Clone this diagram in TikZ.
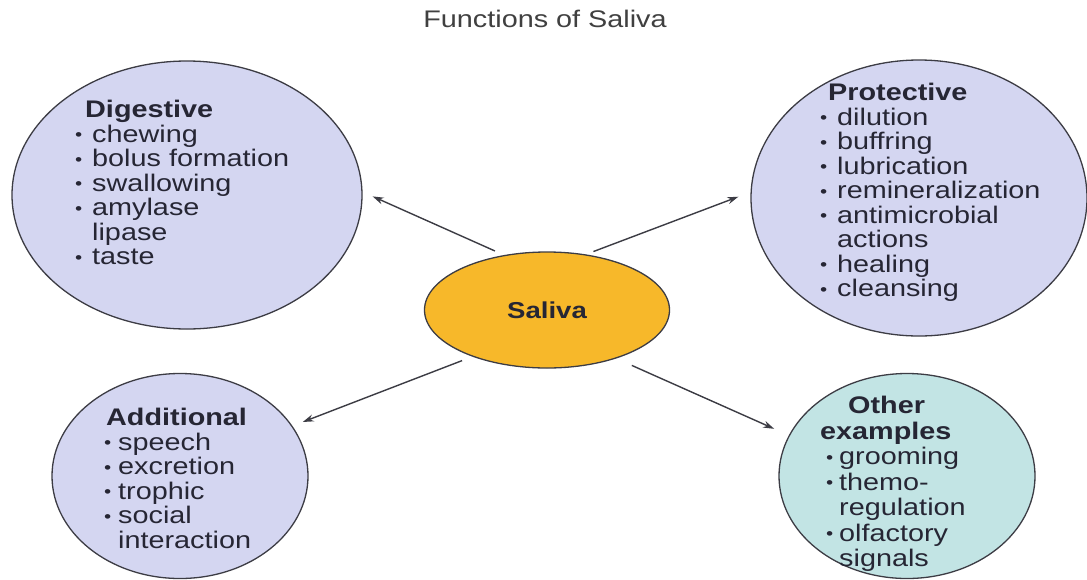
\documentclass[tikz,border=0pt]{standalone}
\usepackage{fontspec}
\setmainfont[FakeStretch=1.2]{Liberation Sans}
\usetikzlibrary{shapes.geometric,arrows.meta}
\definecolor{lav}{HTML}{D4D6F1}
\definecolor{teal}{HTML}{C2E4E4}
\definecolor{sal}{HTML}{F7B82A}
\definecolor{edge}{HTML}{3C3C44}
\definecolor{ink}{HTML}{262634}
\newcommand{\dotb}{\raisebox{1.5pt}{\fontsize{17}{17}\selectfont•}}
\newcommand{\bu}{\makebox[17pt][l]{\dotb}}
\newcommand{\bus}{\makebox[14pt][l]{\dotb}}
\newcommand{\ind}{\hspace*{17pt}}
\tikzset{
  bubble/.style={ellipse, draw=edge, line width=1.3pt, fill=lav, inner sep=0pt},
  txt/.style={anchor=north west, inner sep=0pt, align=left, text=ink,
              font=\fontsize{24}{24.5}\selectfont},
  arr/.style={draw=edge, line width=1.4pt, -{Stealth[length=11pt,width=7pt]}},
}
\begin{document}
\begin{tikzpicture}[x=1pt,y=-1pt]
\useasboundingbox[fill=white] (0,0) rectangle (1087,579);
\node[anchor=base, text=black!75, font=\fontsize{24}{25}\selectfont, inner sep=0pt] (title) at (545,27) {Functions of Saliva};

\node[bubble, minimum width=350pt, minimum height=268pt] (dig) at (187,195) {};
\node[bubble, minimum width=336pt, minimum height=276pt] (pro) at (919,198) {};
\node[bubble, minimum width=256pt, minimum height=205pt] (add) at (180,476) {};
\node[bubble, fill=teal, minimum width=256pt, minimum height=205pt] (oth) at (907,476) {};
\node[ellipse, draw=edge, line width=1.3pt, fill=sal, minimum width=245pt, minimum height=116pt, inner sep=0pt,
      font=\fontsize{23}{24}\selectfont\bfseries, text=ink] (sali) at (547,310) {Saliva};

\node[txt] (digt) at (75,100) {\hspace*{10pt}\textbf{Digestive}\\
\bu chewing\\ \bu bolus formation\\ \bu swallowing\\ \bu amylase\\ \ind lipase\\ \bu taste};

\node[txt] (prot) at (820,83) {\hspace*{8pt}\textbf{Protective}\\
\bu dilution\\ \bu buffring\\ \bu lubrication\\ \bu remineralization\\ \bu antimicrobial\\ \ind actions\\ \bu healing\\ \bu cleansing};

\node[txt] (addt) at (104,408) {\hspace*{2pt}\textbf{Additional}\\
\bus speech\\ \bus excretion\\ \bus trophic\\ \bus social\\ \hspace*{14pt}interaction};

\node[txt, font=\fontsize{24}{25.5}\selectfont] (otht) at (820,396) {\hspace*{28pt}\textbf{Other}\\
\textbf{examples}\\
\hspace*{6pt}\makebox[13pt][l]{\dotb}grooming\\ \hspace*{6pt}\makebox[13pt][l]{\dotb}themo-\\ \hspace*{19pt}regulation\\ \hspace*{6pt}\makebox[13pt][l]{\dotb}olfactory\\ \hspace*{19pt}signals};

\draw[arr, shorten <=10pt, shorten >=11pt] (sali.128) -- (dig.1);
\draw[arr, shorten <=8pt, shorten >=13pt] (sali.55) -- (pro.178);
\draw[arr, shorten <=11pt, shorten >=11pt] (sali.212) -- (add.24);
\draw[arr, shorten <=17pt, shorten >=16pt] (sali.-35) -- (oth.161);
\end{tikzpicture}
\end{document}
